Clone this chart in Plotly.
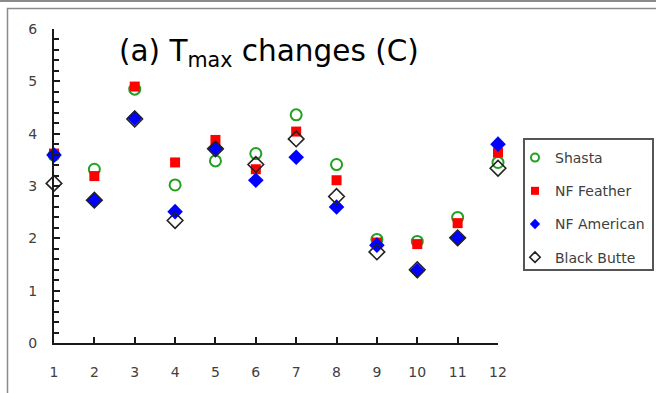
import plotly.graph_objects as go

months = list(range(1, 13))
x_ticks = [str(m) for m in months]
y_ticks = [0, 1, 2, 3, 4, 5, 6]

shasta = [3.59, 3.32, 4.85, 3.02, 3.48, 3.62, 4.36, 3.41, 1.98, 1.94, 2.40, 3.45]
nf_feather = [3.62, 3.19, 4.90, 3.45, 3.88, 3.32, 4.04, 3.11, 1.92, 1.89, 2.29, 3.64]
nf_american = [3.59, 2.73, 4.30, 2.51, 3.72, 3.11, 3.55, 2.60, 1.87, 1.38, 2.00, 3.80]
black_butte = [3.05, 2.73, 4.28, 2.34, 3.71, 3.41, 3.90, 2.80, 1.74, 1.40, 2.01, 3.34]

series = [
    ("Shasta", shasta, dict(symbol="circle-open", size=11, color="#22a022", line=dict(width=2, color="#22a022")),
     dict(symbol="circle-open", size=8, color="#22a022", line=dict(width=2, color="#22a022"))),
    ("NF Feather", nf_feather, dict(symbol="square", size=10, color="#ff0000", line=dict(width=0)),
     dict(symbol="square", size=8, color="#ff0000", line=dict(width=0))),
    ("NF American", nf_american, dict(symbol="diamond", size=12, color="#0000ff", line=dict(width=0)),
     dict(symbol="diamond", size=8, color="#0000ff", line=dict(width=0))),
    ("Black Butte", black_butte, dict(symbol="diamond-open", size=12, color="#222222", line=dict(width=1.6, color="#222222")),
     dict(symbol="diamond-open", size=8, color="#222222", line=dict(width=1.6, color="#222222"))),
]

W, H = 656, 393
L, R, T, B = 54, 498, 29, 343  # plot area in pixels


def px(x):
    return (x - L) / (R - L)


def py(y):
    return (B - y) / (B - T)


fig = go.Figure()
for i, (name, vals, mk, lmk) in enumerate(series):
    fig.add_trace(go.Scatter(x=months, y=vals, mode="markers", name=name, showlegend=False,
                             cliponaxis=False, marker=mk))
for i, (name, vals, mk, lmk) in enumerate(series):
    fig.add_trace(go.Scatter(x=[None], y=[None], mode="markers", name=name, legendgroup=str(i),
                             showlegend=True, marker=lmk))

axis_font = dict(family="DejaVu Sans", size=14, color="#404040")

fig.update_xaxes(range=[1, 12], tickvals=months, ticktext=x_ticks, showgrid=False, zeroline=False,
                 showline=True, linecolor="#1a1a1a", linewidth=2, ticks="inside", ticklen=6,
                 tickwidth=2, tickcolor="#1a1a1a", tickfont=axis_font, ticklabelstandoff=15)
fig.update_yaxes(range=[0, 6], tickvals=y_ticks, showgrid=False, zeroline=False,
                 showline=True, linecolor="#1a1a1a", linewidth=2, ticks="inside", ticklen=6,
                 tickwidth=2, tickcolor="#1a1a1a", tickfont=axis_font, ticklabelstandoff=12,
                 minor=dict(ticks="inside", dtick=0.2, ticklen=5, tickwidth=1.5, tickcolor="#1a1a1a"))

fig.add_annotation(x=px(117), y=py(53), xref="paper", yref="paper", xanchor="left", yanchor="middle",
                   text="(a) T<sub>max</sub> changes (C)", showarrow=False,
                   font=dict(family="DejaVu Sans", size=29.5, color="#000000"))

# frame lines
fig.add_shape(type="line", xref="paper", yref="paper", x0=px(0), x1=px(W), y0=py(1), y1=py(1),
              line=dict(color="#8a8a8a", width=2))
fig.add_shape(type="rect", xref="paper", yref="paper", x0=px(7.5), x1=px(W + 5), y0=py(8.5), y1=py(H + 5),
              line=dict(color="#8a8a8a", width=1.5))
# legend box
fig.add_shape(type="rect", xref="paper", yref="paper", x0=px(524), x1=px(653), y0=py(139), y1=py(270),
              line=dict(color="#555555", width=2))

fig.update_layout(
    width=W, height=H, margin=dict(l=L, r=W - R, t=T, b=H - B, autoexpand=False),
    paper_bgcolor="white", plot_bgcolor="white",
    showlegend=True,
    legend=dict(x=px(515), y=py(142), xanchor="left", yanchor="top", bgcolor="rgba(0,0,0,0)",
                borderwidth=0, tracegroupgap=12,
                font=dict(family="DejaVu Sans", size=14, color="#404040")),
)

fig.write_html("out.html")
